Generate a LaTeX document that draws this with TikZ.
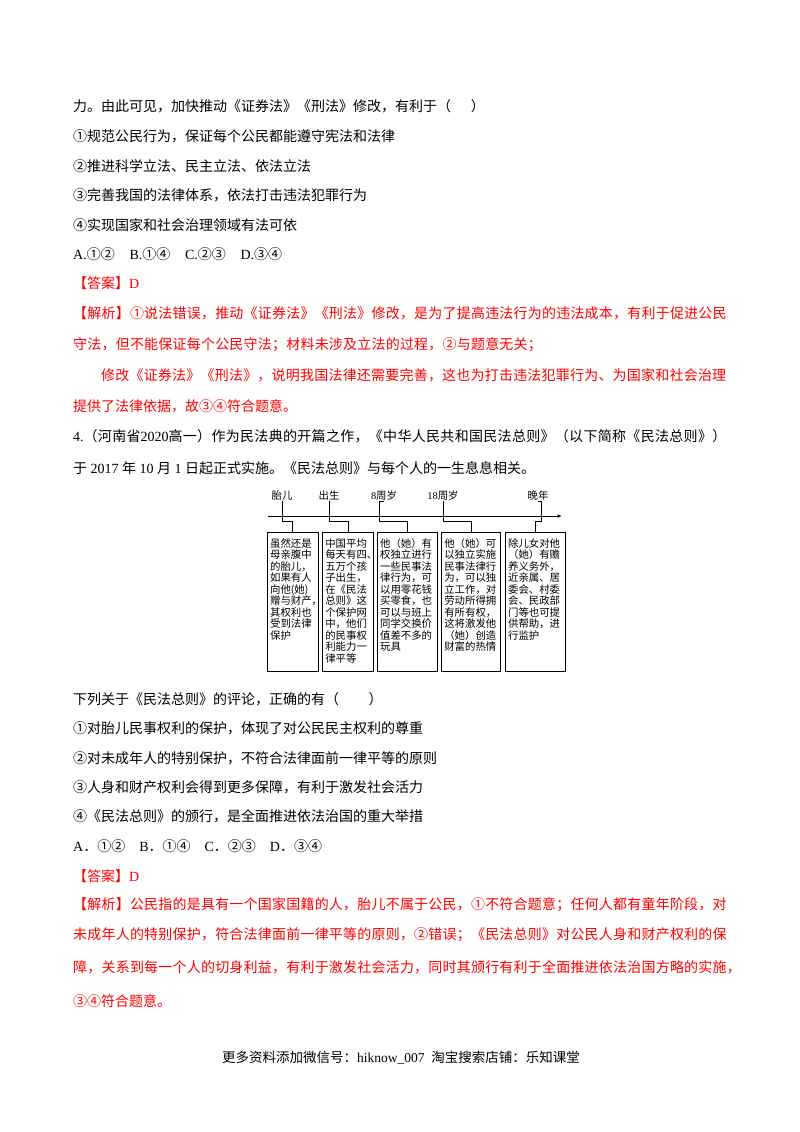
\documentclass[tikz,border=0pt]{standalone}
\usepackage{fontspec}
\setmainfont{Liberation Serif}
\newfontfamily\cjk{Noto Sans CJK SC}
\newfontfamily\cjkwide[LetterSpace=1.5]{Noto Sans CJK SC}
\newfontfamily\cjkwider[LetterSpace=2.2]{Noto Sans CJK SC}
\newcommand{\lat}[1]{{\rmfamily #1}}
\usepackage{tikz}
\usetikzlibrary{positioning}
\usetikzlibrary{arrows}
\definecolor{ansred}{RGB}{255,0,0}
\tikzset{x=1pt,y=-1pt,
      body/.style={anchor=base west,inner sep=0pt,font=\cjk\fontsize{14}{14}\selectfont},
      answer/.style={body,text=ansred},
      answerwide/.style={answer,font=\cjkwide\fontsize{14}{14}\selectfont},
      stage/.style={inner sep=0pt,text height=8pt,text depth=2pt,font=\cjk\fontsize{10.4}{11}\selectfont},
      infobox/.style={draw,semithick,anchor=north west,inner sep=2.8pt,align=left,
      text height=12pt,text depth=121.4pt,font=\cjk\fontsize{10.4}{11.5}\selectfont},
      link/.style={draw,thin}}

\begin{document}
\begin{tikzpicture}
          \useasboundingbox[fill=white] (0,0) rectangle (800,1132);
          % text above the figure
          \node[body] (l1) at (73,111) {力。由此可见，加快推动《证券法》《刑法》修改，有利于（\hspace{1.4em}）};
          \node[body] (l2) at (73,141) {①规范公民行为，保证每个公民都能遵守宪法和法律};
          \node[body] (l3) at (73,171) {②推进科学立法、民主立法、依法立法};
          \node[body] (l4) at (73,200) {③完善我国的法律体系，依法打击违法犯罪行为};
          \node[body] (l5) at (73,230) {④实现国家和社会治理领域有法可依};
          \node[body] (l6) at (73,259) {\lat{A.}①②\hspace{1.05em}\lat{B.}①④\hspace{1.05em}\lat{C.}②③\hspace{1.05em}\lat{D.}③④};
          \node[answer] (a1) at (73,288) {【答案】\lat{D}};
          \node[answerwide] (a2) at (73,318) {【解析】①说法错误，推动《证券法》《刑法》修改，是为了提高违法行为的违法成本，有利于促进公民};
          \node[answerwide] (a3) at (73,349) {守法，但不能保证每个公民守法；材料未涉及立法的过程，②与题意无关；};
          \node[answerwide] (a4) at (101,380) {修改《证券法》《刑法》，说明我国法律还需要完善，这也为打击违法犯罪行为、为国家和社会治理};
          \node[answer] (a5) at (73,411) {提供了法律依据，故③④符合题意。};
          \node[body,font=\cjkwider\fontsize{14}{14}\selectfont] (q1) at (73,441) {\lat{4.}（河南省\lat{2020}高一）作为民法典的开篇之作，《中华人民共和国民法总则》（以下简称《民法总则》）};
          \node[body] (q2) at (73,473) {于\lat{ 2017 }年\lat{ 10 }月\lat{ 1 }日起正式实施。《民法总则》与每个人的一生息息相关。};
          % figure
          \coordinate (axisl) at (268,516);
          \coordinate (axisr) at (561,516);
          \draw[->,>=stealth',thin] (axisl) -- (axisr);
          \node[stage] (s1) at (282,496) {胎儿};
          \node[stage] (s2) at (329,496) {出生};
          \node[stage] (s3) at (384,496) {\lat{8}周岁};
          \node[stage] (s4) at (443,496) {\lat{18}周岁};
          \node[stage] (s5) at (538,496) {晚年};
          \node[infobox,text width=45pt] (b1) at (267,532) {虽然还是\\母亲腹中\\的胎儿，\\如果有人\\向他(她)\\赠与财产，\\其权利也\\受到法律\\保护};
          \node[infobox,text width=45.6pt,right=4pt of b1] (b2) {中国平均\\每天有四、\\五万个孩\\子出生，\\在《民法\\总则》这\\个保护网\\中，他们\\的民事权\\利能力一\\律平等};
          \node[infobox,text width=54pt,right=3pt of b2] (b3) {他（她）有\\权独立进行\\一些民事法\\律行为，可\\以用零花钱\\买零食，也\\可以与班上\\同学交换价\\值差不多的\\玩具};
          \node[infobox,text width=53pt,right=4pt of b3] (b4) {他（她）可\\以独立实施\\民事法律行\\为，可以独\\立工作，对\\劳动所得拥\\有所有权，\\这将激发他\\（她）创造\\财富的热情};
          \node[infobox,text width=54pt,right=4.6pt of b4] (b5) {除儿女对他\\（她）有赡\\养义务外，\\近亲属、居\\委会、村委\\会、民政部\\门等也可提\\供帮助，进\\行监护};
          \draw[link] (s1.south) -- ++(0,20) -| (b1.north);
          \draw[link] (s2.south) -- ++(0,20) -| (b2.north);
          \draw[link] (s3.south) -- ++(-5,0) -- ++(0,20) -| (b3.north);
          \draw[link] (s4.south) -- ++(0,20) -| (b4.north);
          \draw[link] (s5.south) -- ++(3,0) -- ++(0,20) -| (b5.north);
          % text below the figure
          \node[body] (l7) at (73,704) {下列关于《民法总则》的评论，正确的有（\hspace{2.1em}）};
          \node[body] (l8) at (73,733) {①对胎儿民事权利的保护，体现了对公民民主权利的尊重};
          \node[body] (l9) at (73,763) {②对未成年人的特别保护，不符合法律面前一律平等的原则};
          \node[body] (l10) at (73,792) {③人身和财产权利会得到更多保障，有利于激发社会活力};
          \node[body] (l11) at (73,821) {④《民法总则》的颁行，是全面推进依法治国的重大举措};
          \node[body] (l12) at (73,851) {\lat{A}．①②\hspace{1em}\lat{B}．①④\hspace{1em}\lat{C}．②③\hspace{1em}\lat{D}．③④};
          \node[answer] (a6) at (73,881) {【答案】\lat{D}};
          \node[answerwide] (a7) at (73,909) {【解析】公民指的是具有一个国家国籍的人，胎儿不属于公民，①不符合题意；任何人都有童年阶段，对};
          \node[answerwide] (a8) at (73,939) {未成年人的特别保护，符合法律面前一律平等的原则，②错误；《民法总则》对公民人身和财产权利的保};
          \node[answerwide] (a9) at (73,972) {障，关系到每一个人的切身利益，有利于激发社会活力，同时其颁行有利于全面推进依法治国方略的实施，};
          \node[answer] (a10) at (73,1006) {③④符合题意。};
          \node[body,font=\cjk\fontsize{13.5}{14}\selectfont] (foot) at (222,1062) {更多资料添加微信号：\lat{hiknow\_007}\hspace{.5em}淘宝搜索店铺：乐知课堂};
\end{tikzpicture}
\end{document}
